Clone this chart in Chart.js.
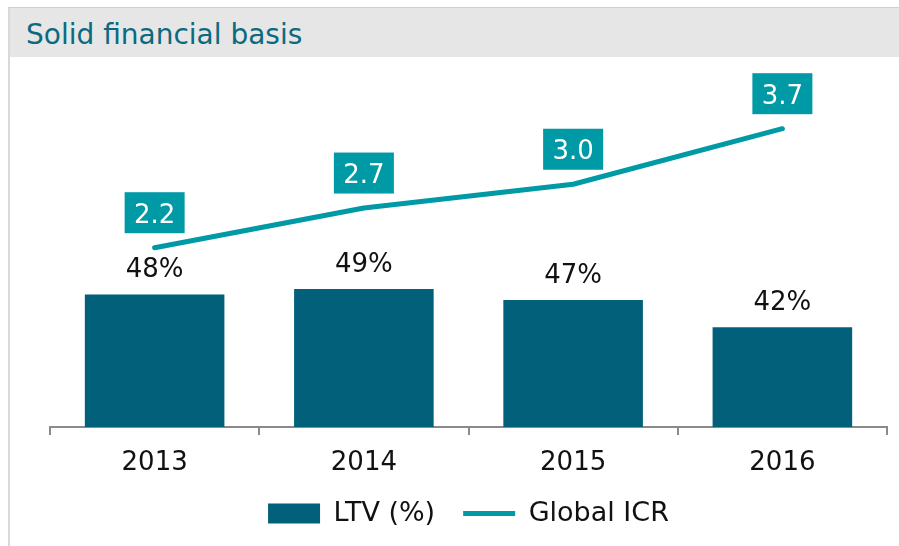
<!DOCTYPE html>
<html><head><meta charset="utf-8">
<script src="https://cdn.jsdelivr.net/npm/chart.js@4"></script>
<style>
html,body{margin:0;padding:0;background:#fff;}
#frame{position:absolute;left:8px;top:7px;width:891px;height:539px;border-left:2px solid #d9d9d9;border-top:1px solid #cfcfcf;box-sizing:border-box;}
#band{position:absolute;left:0;top:0;right:0;height:49px;background:#e6e6e6;}
#title{position:absolute;left:16px;top:13px;font-family:"DejaVu Sans";font-size:28px;line-height:28px;color:#0b6a80;white-space:nowrap;}
#wrap{position:absolute;left:0;top:0;width:899px;height:546px;}
</style></head>
<body>
<div id="frame"><div id="band"><div id="title">Solid financial basis</div></div></div>
<div id="wrap"><canvas id="c" width="899" height="546"></canvas></div>
<script>
const categories = ['2013', '2014', '2015', '2016'];
const ltvValues = [48, 49, 47, 42];
const icrValues = [2.2, 2.7, 3.0, 3.7];
const seriesNames = ['LTV (%)', 'Global ICR'];

const FONT = '"DejaVu Sans"';
const BAR = '#02607a';
const TEAL = '#0099a6';

const valueLabels = {
  id: 'valueLabels',
  afterDatasetsDraw(chart) {
    const ctx = chart.ctx;
    ctx.save();
    ctx.font = '26px ' + FONT;
    ctx.textAlign = 'center';
    ctx.textBaseline = 'alphabetic';
    chart.getDatasetMeta(0).data.forEach((bar, i) => {
      ctx.fillStyle = '#111';
      ctx.fillText(ltvValues[i] + '%', bar.x, bar.y - 17.5);
    });
    chart.getDatasetMeta(1).data.forEach((pt, i) => {
      const cy = pt.y - 35;
      ctx.fillStyle = TEAL;
      ctx.fillRect(pt.x - 30, cy - 20.5, 60, 41);
      ctx.fillStyle = '#fff';
      ctx.fillText(icrValues[i].toFixed(1), pt.x, cy + 10);
    });
    ctx.restore();
  }
};

new Chart(document.getElementById('c'), {
  type: 'bar',
  data: {
    labels: categories,
    datasets: [
      {
        label: seriesNames[0],
        data: ltvValues,
        backgroundColor: BAR,
        borderWidth: 0,
        categoryPercentage: 1,
        barPercentage: 0.667,
        yAxisID: 'y',
        pointStyle: 'rect'
      },
      {
        type: 'line',
        label: seriesNames[1],
        data: icrValues,
        borderColor: TEAL,
        backgroundColor: TEAL,
        borderWidth: 5,
        borderCapStyle: 'round',
        borderJoinStyle: 'round',
        pointRadius: 0,
        pointHoverRadius: 0,
        tension: 0,
        fill: false,
        yAxisID: 'y1',
        pointStyle: 'line'
      }
    ]
  },
  options: {
    responsive: false,
    devicePixelRatio: 1,
    animation: false,
    layout: { padding: { left: 50, right: 12, top: 70, bottom: 9 } },
    plugins: {
      tooltip: { enabled: false },
      legend: {
        position: 'bottom',
        labels: {
          usePointStyle: true,
          pointStyleWidth: 52,
          boxHeight: 20,
          padding: 28,
          color: '#111',
          font: { family: FONT, size: 27 }
        }
      }
    },
    scales: {
      x: {
        offset: true,
        grid: { display: true, drawOnChartArea: false, drawTicks: true, tickLength: 8, color: '#8a8a8a', lineWidth: 2, offset: true },
        border: { display: true, color: '#8a8a8a', width: 2 },
        ticks: { color: '#111', font: { family: FONT, size: 26 }, padding: 13, maxRotation: 0 },
        afterFit(s) { s.height = 45; }
      },
      y: { display: false, min: 23.7, max: 89.2 },
      y1: { display: false, position: 'right', min: -0.06, max: 4.44 }
    }
  },
  plugins: [valueLabels]
});
</script>
</body></html>
